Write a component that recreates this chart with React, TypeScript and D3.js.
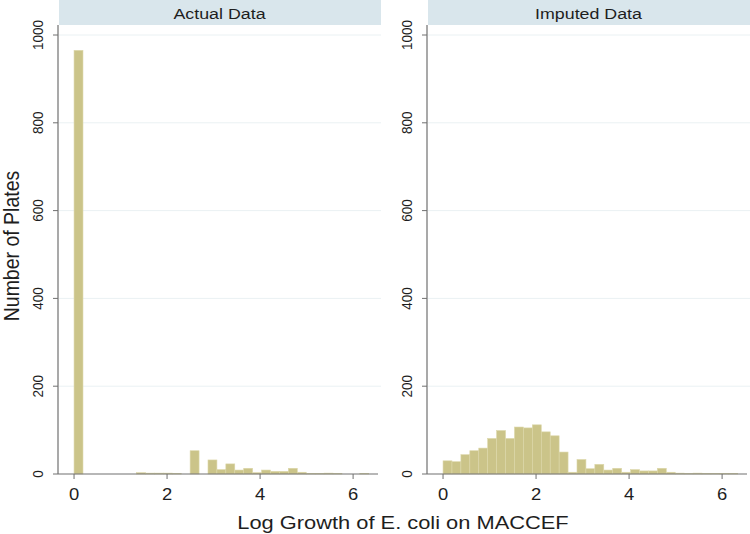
import React from 'react';
import * as d3 from 'd3';

// histogram bins (log growth), width ~0.192 starting at 0
const binWidth = 0.192;
const actualCounts = [965, 0, 0, 0, 0, 0, 0, 3, 2, 2, 2, 1, 0, 53, 0, 32, 10, 23, 9, 13, 3, 9, 6, 6, 13, 4, 1, 1, 2, 1, 0, 0, 1];
const imputedCounts = [30, 28, 44, 53, 59, 81, 99, 81, 107, 105, 112, 96, 87, 50, 4, 33, 12, 22, 9, 13, 4, 10, 7, 7, 13, 4, 2, 1, 2, 1, 1, 1, 1];
const panelTitles = ['Actual Data', 'Imputed Data'];
const xTicks = [0, 2, 4, 6];
const yTicks = [0, 200, 400, 600, 800, 1000];

const W = 750;
const H = 534;
const sx = 1.15; // the original is stretched a bit horizontally
const font = "'Liberation Sans', Arial, sans-serif";

const panels = [
  { title: panelTitles[0], counts: actualCounts, x0: 58, x1: 381 },
  { title: panelTitles[1], counts: imputedCounts, x0: 427, x1: 750 },
];

const y = d3.scaleLinear().domain([0, 1000]).range([474, 35]);

const Panel: React.FC<{ title: string; counts: number[]; x0: number; x1: number }> = ({ title, counts, x0, x1 }) => {
  const x = d3.scaleLinear().domain([-0.345, 6.6]).range([x0, x1]);
  const top = 25;
  const base = y(0);
  return (
    <g>
      <rect x={x0 + 1} y={0} width={x1 - x0 - 1} height={top} fill="#d9e6ec" />
      <text
        transform={`translate(${(x0 + x1) / 2},18.5) scale(${sx},1)`}
        textAnchor="middle"
        fontSize={15.5}
        fill="#1e1e1e"
      >
        {title}
      </text>
      {yTicks.filter((t) => t > 0).map((t) => (
        <line key={t} x1={x0 + 1} x2={x1} y1={y(t)} y2={y(t)} stroke="#eaf1f3" strokeWidth={1} />
      ))}
      {counts.map((c, i) =>
        c > 0 ? (
          <rect
            key={i}
            x={x(i * binWidth)}
            y={y(c)}
            width={x((i + 1) * binWidth) - x(i * binWidth)}
            height={base - y(c)}
            fill="#cbc489"
            stroke="#dcd7aa"
            strokeWidth={0.6}
          />
        ) : null
      )}
      {/* axes */}
      <line x1={x0} x2={x0} y1={top} y2={base} stroke="#707070" strokeWidth={1.2} />
      <line x1={x0} x2={x1 - 3} y1={base} y2={base} stroke="#707070" strokeWidth={1.2} />
      {yTicks.map((t) => (
        <g key={t}>
          <line x1={x0 - 5} x2={x0} y1={y(t)} y2={y(t)} stroke="#707070" strokeWidth={1} />
          <text
            transform={`translate(${x0 - 15},${y(t)}) scale(${sx},1) rotate(-90)`}
            textAnchor="middle"
            fontSize={13.5}
            fill="#1e1e1e"
          >
            {t}
          </text>
        </g>
      ))}
      {xTicks.map((t) => (
        <g key={t}>
          <line x1={x(t)} x2={x(t)} y1={base} y2={base + 5} stroke="#707070" strokeWidth={1} />
          <text
            transform={`translate(${x(t)},500) scale(${sx},1)`}
            textAnchor="middle"
            fontSize={16}
            fill="#1e1e1e"
          >
            {t}
          </text>
        </g>
      ))}
    </g>
  );
};

const App: React.FC = () => {
  return (
    <svg
      width={W}
      height={H}
      style={{ position: 'absolute', left: 0, top: 0, background: '#fff' }}
      fontFamily={font}
    >
      <rect width={W} height={H} fill="#fff" />
      {panels.map((p) => (
        <Panel key={p.title} {...p} />
      ))}
      <text
        transform={`translate(19,246) scale(${sx},1) rotate(-90)`}
        textAnchor="middle"
        fontSize={19.5}
        fill="#1e1e1e"
      >
        Number of Plates
      </text>
      <text
        transform={`translate(403,529) scale(${sx},1)`}
        textAnchor="middle"
        fontSize={19}
        fill="#1e1e1e"
      >
        Log Growth of E. coli on MACCEF
      </text>
    </svg>
  );
};

export default App;
